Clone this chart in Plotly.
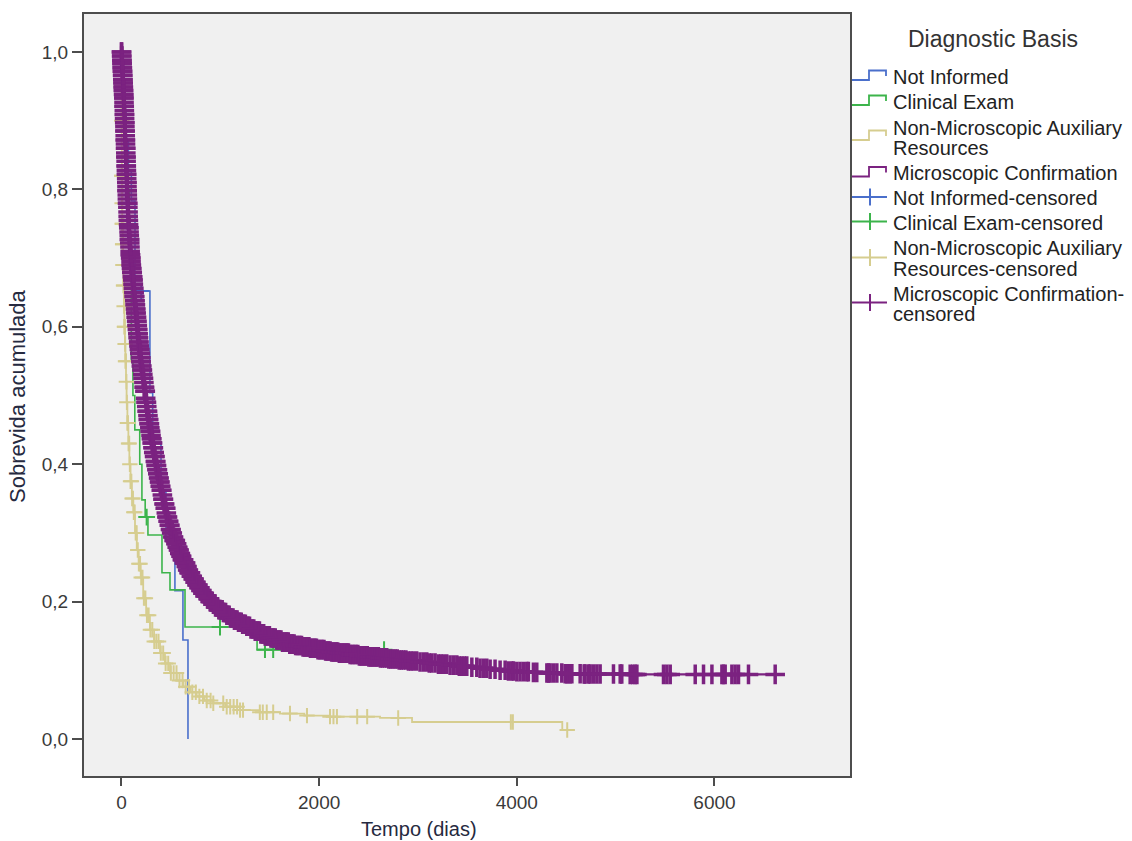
import numpy as np
import plotly.graph_objects as go

# ---- Kaplan-Meier step data (time in days, cumulative survival) ----
# Not Informed
ni_days = [0, 15, 30, 45, 70, 100, 137, 288, 316, 400, 450, 541, 622, 673]
ni_surv = [1.0, 0.957, 0.913, 0.870, 0.826, 0.783, 0.652, 0.504, 0.432, 0.360, 0.288, 0.216, 0.144, 0.0]
ni_censored = [200]

# Clinical Exam
ce_days = [0, 10, 25, 40, 60, 80, 100, 116, 135, 185, 207, 240, 268, 410, 491, 643, 1372]
ce_surv = [1.0, 0.95, 0.90, 0.85, 0.80, 0.72, 0.55, 0.50, 0.45, 0.40, 0.348, 0.323, 0.297, 0.242, 0.217, 0.163, 0.130]
ce_censored = [255, 997, 1452, 1535, 2657]

# Non-Microscopic Auxiliary Resources
nm_days = [0, 1, 2, 3, 4, 6, 8, 12, 16, 20, 26, 30, 35, 40, 46, 52, 60, 70, 80, 92,
           105, 120, 137, 155, 175, 195, 220, 250, 288, 330, 390, 440, 491, 560, 626,
           700, 761, 840, 929, 1050, 1200, 1400, 1604, 1850, 2110, 2616, 2940, 4460]
nm_surv = [1.0, 0.95, 0.90, 0.86, 0.82, 0.78, 0.75, 0.72, 0.69, 0.66, 0.63, 0.60, 0.575,
           0.55, 0.52, 0.49, 0.46, 0.43, 0.40, 0.375, 0.35, 0.33, 0.30, 0.275, 0.255,
           0.235, 0.205, 0.18, 0.159, 0.142, 0.125, 0.11, 0.096, 0.085, 0.076, 0.068,
           0.062, 0.056, 0.052, 0.047, 0.042, 0.039, 0.037, 0.034, 0.0325, 0.0306, 0.0247, 0.013]
nm_censored = [1, 2.5, 4, 5, 7, 9, 10, 12, 14, 16, 19, 21, 24, 27, 30, 33, 37, 41, 45, 50,
               55, 60, 66, 72, 78, 85, 92, 100, 108, 116, 125, 134, 144, 154, 165, 176, 188,
               200, 213, 227, 242, 258, 275, 293, 312, 332, 353, 375, 398, 422, 447, 473,
               500, 528, 557, 587, 618, 650, 683, 717, 752, 788, 825, 863, 902, 929, 1030,
               1065, 1100, 1135, 1170, 1200, 1230, 1400, 1430, 1470, 1535, 1705, 1877, 2110,
               2145, 2180, 2385, 2486, 2800, 3940, 3960, 4510]

# Microscopic Confirmation (large group: many small steps)
mc_days = (
    [0, 2, 4, 6, 8, 10, 12, 14, 16, 18, 20, 22, 24]
    + [25.5, 27, 28.5, 30, 31.5, 33, 34.5, 36, 37.5, 39, 40.5, 42, 43.5, 45, 46.5, 48,
       49.5, 51, 52.5, 54, 55.5, 57, 58.5, 60]
    + [62, 64, 66, 68, 70, 72, 74, 76, 78, 80, 82.5, 85, 87.5, 90, 93, 96, 99]
    + [102, 106, 110, 114, 118, 122, 126, 130, 134, 138, 142, 146, 150, 154, 158, 162,
       166, 170, 174, 178, 182, 187, 192, 197]
    + [202, 207, 213, 218, 224, 230, 236, 242, 248, 254, 260, 266, 272, 278, 284, 290, 296]
    + [302, 310, 318, 326, 334, 342, 350, 358, 366, 374, 382, 391, 400]
    + [410, 420, 430, 440, 450, 460, 471, 482, 494, 507, 520, 533, 546, 560, 573, 586, 600]
    + [616, 633, 650, 667, 684, 700, 720, 740, 760, 780, 800, 820, 845, 870, 895, 920,
       950, 985, 1020, 1060, 1100]
    + [1140, 1180, 1220, 1260, 1300, 1350, 1400, 1450, 1500, 1560, 1620, 1690, 1750,
       1830, 1900, 1975, 2050, 2125, 2200, 2300, 2400, 2500, 2600]
    + [2700, 2800, 2900, 3000, 3100, 3200, 3300, 3400, 3500, 3600, 3700, 3800, 3900,
       4000, 4150, 4300, 4480, 4650, 5100]
)
mc_surv = (
    [1.000, 0.994, 0.988, 0.983, 0.977, 0.972, 0.966, 0.960, 0.955, 0.949, 0.944, 0.938, 0.933]
    + [0.927, 0.921, 0.915, 0.909, 0.903, 0.897, 0.891, 0.885, 0.878, 0.872, 0.866, 0.860,
       0.853, 0.847, 0.841, 0.834, 0.828, 0.822, 0.816, 0.810, 0.804, 0.798, 0.792, 0.786]
    + [0.780, 0.774, 0.767, 0.761, 0.755, 0.749, 0.744, 0.738, 0.733, 0.727, 0.722, 0.716,
       0.710, 0.705, 0.700, 0.695, 0.690]
    + [0.685, 0.679, 0.673, 0.668, 0.662, 0.656, 0.650, 0.644, 0.638, 0.632, 0.626, 0.620,
       0.614, 0.608, 0.602, 0.596, 0.590, 0.584, 0.578, 0.572, 0.567, 0.561, 0.555, 0.549]
    + [0.543, 0.537, 0.531, 0.525, 0.519, 0.512, 0.506, 0.496, 0.490, 0.484, 0.477, 0.471,
       0.465, 0.459, 0.453, 0.448, 0.442]
    + [0.437, 0.431, 0.424, 0.417, 0.411, 0.404, 0.398, 0.392, 0.386, 0.380, 0.374, 0.368, 0.362]
    + [0.355, 0.349, 0.342, 0.336, 0.329, 0.323, 0.317, 0.311, 0.305, 0.300, 0.294, 0.289,
       0.284, 0.279, 0.275, 0.270, 0.266]
    + [0.261, 0.256, 0.251, 0.246, 0.242, 0.237, 0.233, 0.228, 0.224, 0.220, 0.216, 0.212,
       0.208, 0.204, 0.200, 0.196, 0.192, 0.188, 0.184, 0.180, 0.176]
    + [0.173, 0.170, 0.167, 0.164, 0.160, 0.157, 0.153, 0.150, 0.147, 0.144, 0.141, 0.138,
       0.136, 0.134, 0.132, 0.130, 0.128, 0.1265, 0.125, 0.123, 0.121, 0.1195, 0.118]
    + [0.1165, 0.115, 0.1135, 0.112, 0.1105, 0.109, 0.1075, 0.106, 0.1045, 0.103, 0.1015,
       0.100, 0.099, 0.098, 0.097, 0.096, 0.095, 0.0945, 0.094]
)
mc_censored = [
    # first two months: censoring almost every day
    0.5, 1, 2, 3, 4, 5, 6, 7, 8, 9, 10, 11, 12, 13, 14, 15, 16, 17, 18, 19, 20, 21, 22,
    23, 24, 25, 26, 27, 28, 29, 30, 31, 32, 33, 34, 35, 36, 37, 38, 39, 40, 41, 42, 43,
    44, 45, 46, 47, 48, 49, 50, 51, 52, 53, 54, 55, 56, 57, 58, 59,
    60, 62, 63, 65, 67, 68, 70, 72, 74, 75, 77, 79, 81, 82, 84, 86, 88, 90, 91, 93, 95,
    97, 99, 100, 102, 104, 106, 108, 109, 111, 113, 115, 117, 119, 120, 122, 124, 126,
    128, 130, 131, 133, 135, 137, 139, 141, 143, 144, 146, 148, 150, 152, 154, 156, 158,
    160, 162, 164, 166, 168, 170, 172, 174, 176, 178, 180, 182, 185, 187, 189, 191, 193,
    195, 197, 199,
    202, 205, 209, 212, 216, 219, 223, 227, 230, 234, 238, 241, 245, 249, 253, 256, 260,
    264, 268, 272, 275, 279, 283, 287, 291, 295, 299, 303, 307, 311, 315, 319, 323, 327,
    331, 335, 339, 343, 347, 351, 355, 359, 364, 368, 372, 376, 380, 385, 389, 393, 397,
    403, 408, 414, 420, 425, 431, 437, 443, 448, 454, 460, 466, 472, 478, 484, 490, 496,
    502, 508, 514, 520, 527, 533, 539, 545, 551, 558, 564, 570, 577, 583, 590, 596, 603,
    609, 616, 622, 629, 636, 642, 649, 656, 663, 670, 677, 684, 691, 698,
    707, 716, 726, 735, 745, 754, 764, 774, 784, 794, 804, 814, 824, 834, 845, 855, 866,
    876, 887, 897, 908, 919, 930, 941, 952, 963, 974, 985, 996, 1008, 1019, 1031, 1042,
    1054, 1066, 1078, 1090,
    1102, 1116, 1129, 1143, 1157, 1170, 1184, 1198, 1212, 1226, 1240, 1254, 1268, 1282,
    1296, 1310, 1325, 1339, 1353, 1367, 1382, 1396, 1410, 1425, 1439, 1454, 1468, 1483,
    1497, 1512, 1526, 1541, 1556, 1570, 1585, 1600, 1614, 1629, 1644, 1658, 1673, 1688,
    1703, 1717, 1732, 1747, 1762, 1777, 1792, 1807, 1822, 1837, 1852, 1867, 1882, 1897,
    1912, 1927, 1943, 1958, 1973, 1988, 2003, 2019, 2034, 2049, 2065, 2080, 2095, 2111,
    2126, 2142, 2157, 2173, 2188, 2204, 2219, 2235, 2250, 2266, 2282, 2297, 2313, 2329,
    2344, 2360, 2376, 2392, 2407, 2423, 2439, 2455, 2471, 2487, 2503, 2519, 2535, 2551,
    2567, 2583, 2599,
    # later follow-up
    2620, 2640, 2662, 2684, 2705, 2725, 2747, 2768, 2790, 2810, 2831, 2852, 2878, 2903,
    2928, 2953, 2987, 3021, 3055, 3089, 3114, 3140, 3173, 3207, 3232, 3257, 3291, 3325,
    3359, 3393, 3418, 3443, 3468, 3494, 3545, 3595, 3628, 3662, 3696, 3730, 3780, 3831,
    3882, 3915, 3949, 3966, 4000, 4033, 4067, 4101, 4117, 4168, 4202, 4304, 4320, 4337,
    4370, 4405, 4455, 4489, 4506, 4522, 4540, 4557, 4641, 4681, 4691, 4725, 4742, 4776,
    4810, 4843, 4978, 5046, 5062, 5147, 5174, 5197, 5215, 5484, 5518, 5552, 5805, 5889,
    5974, 6075, 6091, 6108, 6176, 6209, 6243, 6344, 6614]

# last follow-up time drawn for each curve
ni_end, ce_end, nm_end, mc_end = 673, 2657, 4510, 6614

for d, s in [(ni_days, ni_surv), (ce_days, ce_surv), (nm_days, nm_surv), (mc_days, mc_surv)]:
    assert len(d) == len(s)

groups = [
    # name, days, survival, censored, end, colour, line width, marker size, marker stroke
    ("Not Informed", ni_days, ni_surv, ni_censored, ni_end, "#4a6fcb", 1.6, 12, 2),
    ("Clinical Exam", ce_days, ce_surv, ce_censored, ce_end, "#3cb44b", 1.6, 12, 2),
    ("Non-Microscopic Auxiliary Resources", nm_days, nm_surv, nm_censored, nm_end, "#d6cd8f", 1.8, 11, 2),
    ("Microscopic Confirmation", mc_days, mc_surv, mc_censored, mc_end, "#7b2280", 2.2, 14, 3.5),
]


def surv_at(days, surv, t):
    """Value of the step function at time t."""
    i = np.searchsorted(np.asarray(days), t, side="right") - 1
    return np.asarray(surv)[i]


fig = go.Figure()

# survival step curves
for name, days, surv, cens, end, color, lw, ms, mw in groups:
    xs = list(days)
    ys = list(surv)
    if end > xs[-1]:
        xs.append(end)
        ys.append(ys[-1])
    fig.add_trace(go.Scatter(
        x=xs, y=ys, mode="lines", line=dict(color=color, width=lw, shape="hv"),
        name=name, showlegend=False, hoverinfo="skip"))

# censored observations
for name, days, surv, cens, end, color, lw, ms, mw in groups:
    cy = [float(surv_at(days, surv, t)) for t in cens]
    fig.add_trace(go.Scatter(
        x=cens, y=cy, mode="markers",
        marker=dict(symbol="cross-thin", size=ms, line=dict(color=color, width=mw)),
        name=name + "-censored", showlegend=False, hoverinfo="skip"))

# ---- layout geometry (pixels) ----
W, H = 1132, 841
L, R, T, B = 84, 850, 14, 776


def pxx(x):
    return (x - L) / (R - L)


def pxy(y):
    return (B - y) / (B - T)


axis_color = "#4d4d4d"
tick_font = dict(family="Arial, Liberation Sans, sans-serif", size=19, color="#3a3a3a")

fig.update_layout(
    width=W, height=H, autosize=False,
    margin=dict(l=L, r=W - R, t=T, b=H - B, pad=0),
    paper_bgcolor="white", plot_bgcolor="#f0f0f0",
    showlegend=False,
    xaxis=dict(range=[-379, 7371], tickvals=[0, 2000, 4000, 6000],
               ticktext=["0", "2000", "4000", "6000"],
               showgrid=False, zeroline=False, showline=True, mirror=True,
               linecolor=axis_color, linewidth=2, ticks="outside", ticklen=8,
               tickwidth=2, tickcolor=axis_color, tickfont=tick_font),
    yaxis=dict(range=[-0.0539, 1.0553], tickvals=[0, 0.2, 0.4, 0.6, 0.8, 1.0],
               ticktext=["0,0", "0,2", "0,4", "0,6", "0,8", "1,0"],
               showgrid=False, zeroline=False, showline=True, mirror=True,
               linecolor=axis_color, linewidth=2, ticks="outside", ticklen=10,
               tickwidth=2, tickcolor=axis_color, tickfont=tick_font),
)

annotations = []
shapes = []

# axis titles
annotations.append(dict(text="Tempo (dias)", x=pxx(419), y=pxy(829), xref="paper", yref="paper",
                        showarrow=False, xanchor="center", yanchor="middle",
                        font=dict(family="Arial, Liberation Sans, sans-serif", size=20, color="#262a40")))
annotations.append(dict(text="Sobrevida acumulada", x=pxx(18), y=pxy(396), xref="paper", yref="paper",
                        showarrow=False, xanchor="center", yanchor="middle", textangle=-90,
                        font=dict(family="Arial, Liberation Sans, sans-serif", size=22, color="#262a40")))

# legend block
leg_font = dict(family="Arial, Liberation Sans, sans-serif", size=20, color="#222222")
annotations.append(dict(text="Diagnostic Basis", x=pxx(993), y=pxy(39), xref="paper", yref="paper",
                        showarrow=False, xanchor="center", yanchor="middle",
                        font=dict(family="Arial, Liberation Sans, sans-serif", size=23, color="#333333")))

legend_rows = [
    # (text lines with y centres, glyph kind, glyph y, colour)
    ([("Not Informed", 77.3)], "step", 80, groups[0][5]),
    ([("Clinical Exam", 101.7)], "step", 105, groups[1][5]),
    ([("Non-Microscopic Auxiliary", 128), ("Resources", 148.5)], "step", 140, groups[2][5]),
    ([("Microscopic Confirmation", 173.3)], "step", 176.5, groups[3][5]),
    ([("Not Informed-censored", 198.3)], "cens", 197, groups[0][5]),
    ([("Clinical Exam-censored", 222.7)], "cens", 221.5, groups[1][5]),
    ([("Non-Microscopic Auxiliary", 248), ("Resources-censored", 268.5)], "cens", 257.5, groups[2][5]),
    ([("Microscopic Confirmation-", 293.5), ("censored", 314)], "cens", 302.5, groups[3][5]),
]

for lines, kind, gy, color in legend_rows:
    for txt, ty in lines:
        annotations.append(dict(text=txt, x=pxx(891), y=pxy(ty), xref="paper", yref="paper",
                                showarrow=False, xanchor="left", yanchor="middle", font=leg_font))
    if kind == "step":
        path = (f"M {pxx(852)},{pxy(gy)} L {pxx(869)},{pxy(gy)} L {pxx(869)},{pxy(gy - 9.5)} "
                f"L {pxx(886)},{pxy(gy - 9.5)} L {pxx(886)},{pxy(gy - 4)}")
        shapes.append(dict(type="path", path=path, xref="paper", yref="paper",
                           line=dict(color=color, width=1.8)))
    else:
        shapes.append(dict(type="line", x0=pxx(852), x1=pxx(887), y0=pxy(gy), y1=pxy(gy),
                           xref="paper", yref="paper", line=dict(color=color, width=1.8)))
        shapes.append(dict(type="line", x0=pxx(870), x1=pxx(870), y0=pxy(gy - 8.5), y1=pxy(gy + 8.5),
                           xref="paper", yref="paper", line=dict(color=color, width=2)))

fig.update_layout(annotations=annotations, shapes=shapes)

fig.write_html("out.html")
